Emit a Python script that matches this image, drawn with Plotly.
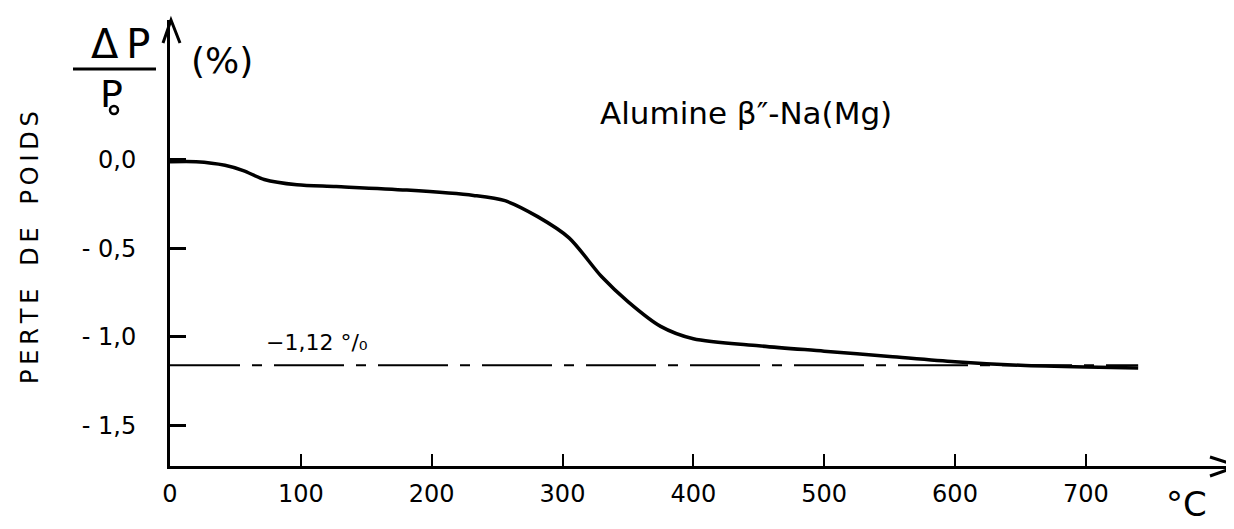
import plotly.graph_objects as go

# ---- data ----
temp_c = [0, 20, 42, 56, 72, 97, 127, 181, 232, 256, 281, 305, 330, 350, 375, 400,
          450, 500, 550, 600, 650, 700, 740]
weight_loss = [-0.01, -0.01, -0.03, -0.06, -0.11, -0.14, -0.15, -0.17, -0.20, -0.23,
               -0.32, -0.44, -0.66, -0.80, -0.94, -1.01, -1.05, -1.08, -1.11, -1.14,
               -1.16, -1.17, -1.175]
plateau_x = [0, 740]
plateau_y = [-1.16, -1.16]
plateau_label = "−1,12 °/₀"

x_ticks = [0, 100, 200, 300, 400, 500, 600, 700]
x_ticktext = ["0", "100", "200", "300", "400", "500", "600", "700"]
y_ticks = [-1.5, -1.0, -0.5, 0.0]
y_ticktext = ["- 1,5", "- 1,0", "- 0,5", "0,0"]

W, H = 1234, 529
ML, MR, MT, MB = 162, 4, 12, 71
PW, PH = W - ML - MR, H - MT - MB
FONT = "DejaVu Sans"
TS = "\u2009"  # thin space for letter spacing


def px(xp, yp):
    return (xp - ML) / PW, (H - MB - yp) / PH


fig = go.Figure()
fig.add_trace(go.Scatter(x=temp_c, y=weight_loss, mode="lines",
                         line=dict(color="black", width=3.5, shape="spline", smoothing=0.8),
                         hoverinfo="skip", showlegend=False))
fig.add_trace(go.Scatter(x=plateau_x, y=plateau_y, mode="lines",
                         line=dict(color="black", width=2, dash="70px,12px,10px,12px"),
                         hoverinfo="skip", showlegend=False))

annotations = []


def add_text(text, xp, yp, size, xanchor="center", yanchor="middle", textangle=0):
    x, y = px(xp, yp)
    annotations.append(dict(text=text, x=x, y=y, xref="paper", yref="paper",
                            showarrow=False, xanchor=xanchor, yanchor=yanchor,
                            textangle=textangle,
                            font=dict(family=FONT, size=size, color="black")))


def spaced(word):
    return TS.join(word)


add_text("Δ" + TS + "P", 112, 36, 40)
add_text("P", 103, 86, 38)
add_text("(%)", 214, 52, 36)
add_text("   ".join(spaced(w) for w in ["PERTE", "DE", "POIDS"]), 22, 240, 24, textangle=-90)
add_text("Alumine β″-Na(Mg)", 590, 105, 31, xanchor="left")
add_text(plateau_label, 256, 334, 22, xanchor="left")
add_text("°C", 1178, 496, 34)

shapes = []
# fraction bar
x0, y0 = px(65, 61)
x1, y1 = px(148, 61)
shapes.append(dict(type="line", xref="paper", yref="paper", x0=x0, y0=y0, x1=x1, y1=y1,
                   line=dict(color="black", width=3)))
# small circle under P
cx0, cy0 = px(102, 98)
cx1, cy1 = px(110, 106)
shapes.append(dict(type="circle", xref="paper", yref="paper", x0=cx0, y0=cy0, x1=cx1, y1=cy1,
                   line=dict(color="black", width=2.5)))


def path(points):
    parts = []
    for i, (a, b) in enumerate(points):
        xx, yy = px(a, b)
        parts.append(("M" if i == 0 else "L") + f"{xx:.5f},{yy:.5f}")
    return " ".join(parts)


# y-axis arrowhead
shapes.append(dict(type="path", xref="paper", yref="paper",
                   path=path([(155, 35), (163, 12), (172, 35)]),
                   line=dict(color="black", width=3)))
# x-axis arrowhead
shapes.append(dict(type="path", xref="paper", yref="paper",
                   path=path([(1202, 449), (1230, 458), (1202, 468)]),
                   line=dict(color="black", width=3)))

fig.update_layout(
    width=W, height=H,
    margin=dict(l=ML, r=MR, t=MT, b=MB, pad=0),
    paper_bgcolor="white", plot_bgcolor="white",
    showlegend=False,
    annotations=annotations,
    shapes=shapes,
    xaxis=dict(range=[0, 816.3], tickvals=x_ticks, ticktext=x_ticktext,
               showgrid=False, zeroline=False, showline=True, linecolor="black", linewidth=3,
               ticks="inside", ticklen=12, tickwidth=2, tickcolor="black",
               ticklabelstandoff=4,
               tickfont=dict(family=FONT, size=24, color="black")),
    yaxis=dict(range=[-1.729, 0.791], tickvals=y_ticks, ticktext=y_ticktext,
               showgrid=False, zeroline=False, showline=True, linecolor="black", linewidth=3,
               ticks="inside", ticklen=16, tickwidth=3, tickcolor="black",
               ticklabelstandoff=26,
               tickfont=dict(family=FONT, size=24, color="black")),
)

fig.write_html("out.html")
